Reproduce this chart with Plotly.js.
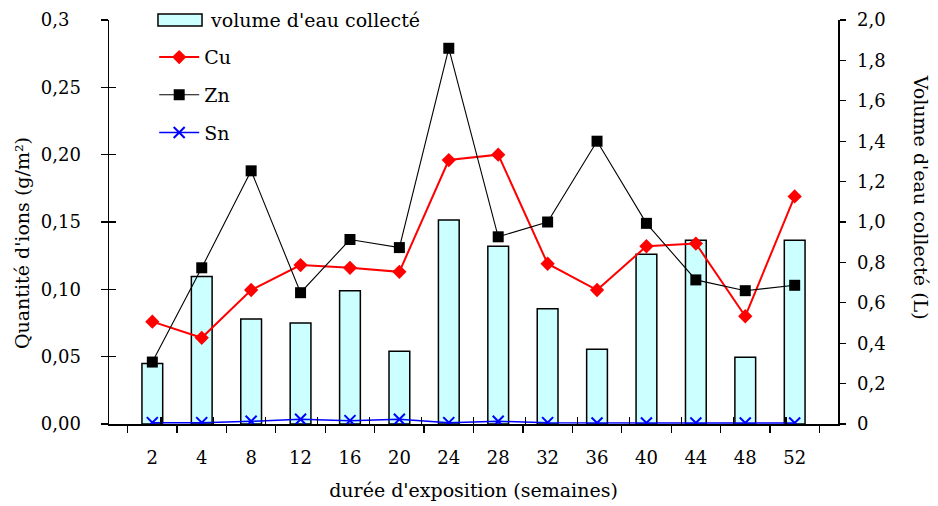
<!DOCTYPE html>
<html>
<head>
<meta charset="utf-8">
<script src="https://cdn.plot.ly/plotly-3.0.1.min.js"></script>
<style>html,body{margin:0;padding:0;background:#fff;}#chart{width:938px;height:506px;}</style>
</head>
<body>
<div id="chart"></div>
<script>
const weeks = ["2","4","8","12","16","20","24","28","32","36","40","44","48","52"];
const volume = [0.30,0.73,0.52,0.50,0.66,0.36,1.01,0.88,0.57,0.37,0.84,0.91,0.33,0.91];
const cu = [0.076,0.064,0.0995,0.118,0.116,0.113,0.196,0.200,0.119,0.0995,0.132,0.134,0.080,0.169];
const zn = [0.046,0.116,0.188,0.0975,0.137,0.131,0.279,0.139,0.150,0.210,0.149,0.107,0.099,0.103];
const sn = [0.001,0.001,0.002,0.0035,0.0025,0.0035,0.001,0.002,0.001,0.0008,0.0008,0.0008,0.0008,0.0008];
const leftTickVals = [0,0.05,0.10,0.15,0.20,0.25,0.3];
const leftTickText = ["0,00","0,05","0,10","0,15","0,20","0,25","0,3\u2007"];
const rightTickVals = [0,0.2,0.4,0.6,0.8,1.0,1.2,1.4,1.6,1.8,2.0];
const rightTickText = ["0","0,2","0,4","0,6","0,8","1,0","1,2","1,4","1,6","1,8","2,0"];
const boundaryTicks = [-0.5,0.5,1.5,2.5,3.5,4.5,5.5,6.5,7.5,8.5,9.5,10.5,11.5,12.5,13.5];

const FONT = "DejaVu Serif, serif";
const TICK = 18, TITLE = 19;

const traces = [
  {type:"bar", x:weeks, y:volume, name:"volume d'eau collecté", yaxis:"y", xaxis:"x",
   marker:{color:"#CCFFFF", line:{color:"#000", width:1.5}}, width:0.42, showlegend:false},
  {type:"scatter", mode:"lines+markers", x:weeks, y:cu, name:"Cu", yaxis:"y2", xaxis:"x",
   line:{color:"#FF0000", width:2}, marker:{symbol:"diamond", size:11, color:"#FF0000"}, legendgroup:"b"},
  {type:"scatter", mode:"lines+markers", x:weeks, y:zn, name:"Zn", yaxis:"y2", xaxis:"x",
   line:{color:"#000", width:1.1}, marker:{symbol:"square", size:11, color:"#000"}, legendgroup:"c"},
  {type:"scatter", mode:"lines+markers", x:weeks, y:sn, name:"Sn", yaxis:"y2", xaxis:"x",
   line:{color:"#0000FF", width:1.5}, marker:{symbol:"x-thin", size:11, color:"#0000FF", line:{color:"#0000FF", width:2}}, legendgroup:"d"},
  {type:"scatter", x:[0], y:[0], xaxis:"x2", yaxis:"y3", mode:"markers", marker:{opacity:0}, showlegend:false, hoverinfo:"skip"}
];

const layout = {
  width:938, height:506,
  margin:{l:109, r:100, t:20, b:82},
  paper_bgcolor:"#fff", plot_bgcolor:"rgba(0,0,0,0)",
  font:{family:FONT, size:TICK, color:"#000"},
  showlegend:true,
  legend:{x:0.062, y:0.955, xanchor:"left", yanchor:"top", bgcolor:"rgba(0,0,0,0)",
          font:{family:FONT, size:TITLE}, traceorder:"grouped", tracegroupgap:10, itemwidth:40},
  xaxis:{type:"category", showline:true, linecolor:"#000", linewidth:1.5,
         ticks:"outside", ticklen:7, tickwidth:1.2, tickcolor:"#000", tickson:"boundaries",
         showgrid:false, zeroline:false, tickfont:{family:FONT, size:TICK}, ticklabelstandoff:17,
         title:{text:"durée d'exposition (semaines)", font:{family:FONT, size:TITLE}, standoff:16}},
  xaxis2:{overlaying:"x", range:[-0.5,13.5], showline:false, ticks:"inside", ticklen:7, tickwidth:1.2,
          tickcolor:"#000", tickvals:boundaryTicks,
          showticklabels:false, showgrid:false, zeroline:false, anchor:"y"},
  yaxis:{side:"right", range:[0,2], showline:true, linecolor:"#000", linewidth:1.5,
         ticks:"outside", ticklen:6, tickwidth:1.2, tickcolor:"#000",
         tickvals:rightTickVals, ticktext:rightTickText, showgrid:false, zeroline:false,
         tickfont:{family:FONT, size:TICK}, ticklabelstandoff:8},
  yaxis2:{overlaying:"y", side:"left", range:[0,0.3], showline:true, linecolor:"#000", linewidth:1.5,
          ticks:"outside", ticklen:7, tickwidth:1.2, tickcolor:"#000",
          tickvals:leftTickVals, ticktext:leftTickText, showgrid:false, zeroline:false,
          tickfont:{family:FONT, size:TICK}, ticklabelstandoff:16},
  yaxis3:{overlaying:"y", side:"left", range:[0,0.3], showline:false,
          ticks:"inside", ticklen:7, tickwidth:1.2, tickcolor:"#000",
          tickvals:leftTickVals, showticklabels:false, showgrid:false, zeroline:false},
  shapes:[
    {type:"rect", xref:"paper", yref:"paper", x0:0.0672, x1:0.1276, y0:0.985, y1:1.0149,
     fillcolor:"#CCFFFF", line:{color:"#000", width:1.5}, layer:"above"}
  ],
  annotations:[
    {text:"volume d'eau collecté", xref:"paper", yref:"paper", x:0.1358, y:1.0, showarrow:false,
     font:{family:FONT, size:TITLE}, xanchor:"left", yanchor:"middle"},
    {text:"Quantité d'ions (g/m²)", xref:"paper", yref:"paper", x:-0.1193, y:0.448, showarrow:false,
     textangle:-90, font:{family:FONT, size:TITLE}, xanchor:"center", yanchor:"middle"},
    {text:"Volume d'eau collecté (L)", xref:"paper", yref:"paper", x:1.114, y:0.562, showarrow:false,
     textangle:90, font:{family:FONT, size:TITLE}, xanchor:"center", yanchor:"middle"}
  ]
};

Plotly.newPlot("chart", traces, layout, {displayModeBar:false, staticPlot:true});
</script>
</body>
</html>
